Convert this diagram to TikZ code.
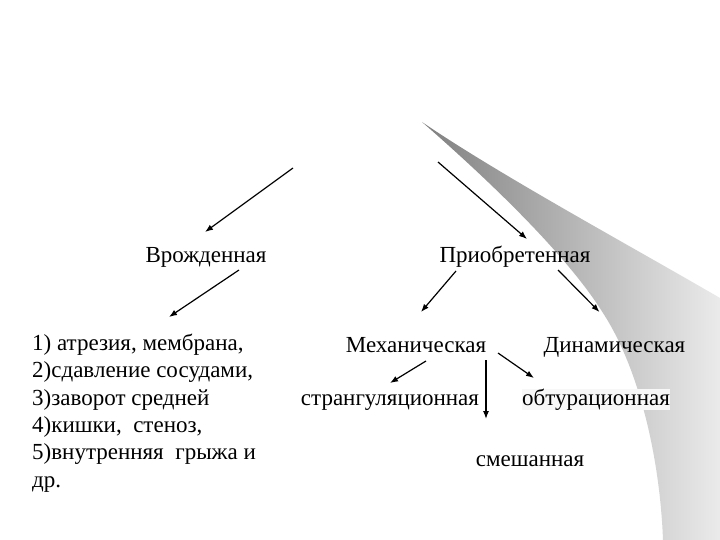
\documentclass[tikz,border=0pt]{standalone}
\usepackage{fontspec}
\setmainfont{Liberation Serif}
\usetikzlibrary{arrows.meta,calc}
\begin{document}
\begin{tikzpicture}[x=1pt,y=-1pt,
  lbl/.style={inner sep=0pt,anchor=base,font=\fontsize{23}{28.4}\selectfont},
  arr/.style={line width=1.2pt,-{Latex[length=8pt,width=6pt]}}]
\useasboundingbox (0,0) rectangle (720,540);
\fill[white] (0,0) rectangle (720,540);
% grey swoosh
\shade[left color=black!50,right color=black!8]
  (422,122) .. controls (500,175) and (620,240) .. (720,298)
  -- (720,540) -- (663,540)
  .. controls (660,460) and (640,370) .. (603,313)
  .. controls (570,260) and (500,190) .. (422,122) -- cycle;
% nodes
\node[lbl] (vr) at (206,262) {Врожденная};
\node[lbl] (pr) at (515,262) {Приобретенная};
\node[lbl] (me) at (416,352) {Механическая};
\node[lbl] (di) at (614.5,352) {Динамическая};
\node[lbl] (st) at (390,405) {странгуляционная};
\node[lbl,fill=black!3] (ob) at (596,405) {обтурационная};
\node[lbl] (sm) at (530,466) {смешанная};
\node[inner sep=0pt,anchor=base west,align=left,font=\fontsize{23}{27.3}\selectfont] (li) at (32,487)
  {1) атрезия, мембрана,\\2)сдавление сосудами,\\3)заворот средней\\4)кишки,~~стеноз,\\5)внутренняя~~грыжа и\\др.};
% free starts
\coordinate (s1) at (293,168);
\coordinate (s3) at (438,162);
% arrows
\draw[arr] (s1) -- ($(vr.base)+(-1,-30)$);
\draw[arr] ($(vr.base)+(33,8)$) -- ($(li.base west)+(137,-170)$);
\draw[arr] (s3) -- ($(pr.base)+(12,-23)$);
\draw[arr] ($(pr.base)+(-59,9)$) -- ($(me.base)+(5,-40)$);
\draw[arr] ($(pr.base)+(43,8)$) -- ($(di.base)+(-15,-40)$);
\draw[arr] ($(me.base)+(10,9)$) -- ($(st.base)+(0,-22)$);
\draw[arr] ($(me.base)+(70,8)$) -- ($(sm.base)+(-44,-47)$);
\draw[arr] ($(me.base)+(82,1)$) -- ($(ob.base)+(-62,-27)$);
\end{tikzpicture}
\end{document}
